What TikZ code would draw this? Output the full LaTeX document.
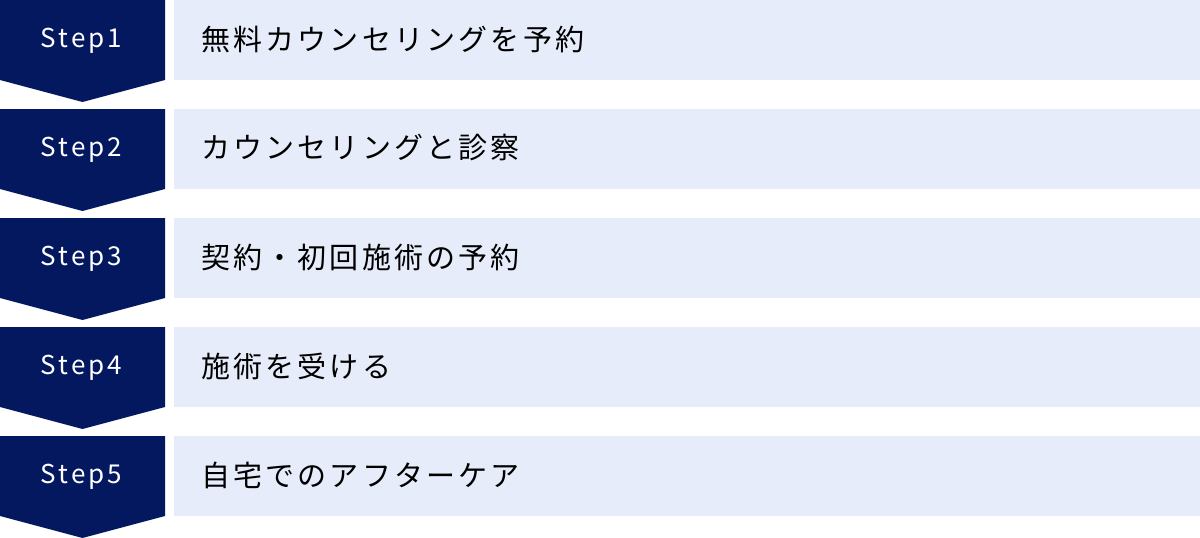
\documentclass[tikz,border=0pt]{standalone}
\usepackage{fontspec}
\setmainfont{Noto Sans CJK JP}
\newfontfamily\stepfont[LetterSpace=12]{Noto Sans CJK JP}
\newfontfamily\capfont[LetterSpace=11]{Noto Sans CJK JP}
\definecolor{navyblue}{HTML}{04185F}
\definecolor{paleblue}{HTML}{E6ECF9}

\tikzset{
  stepbox/.style={text=white,font=\stepfont\fontsize{26}{30}\selectfont},
  bar/.style={fill=paleblue,minimum width=1026pt,minimum height=80pt,inner sep=0pt,anchor=north west},
  caption/.style={anchor=west,text=black,font=\capfont\fontsize{29}{34}\selectfont,inner sep=0pt}
}

\begin{document}
\begin{tikzpicture}[x=1pt,y=-1pt]
\useasboundingbox (0,0) rectangle (1200,538);
%\draw[thin,gray!40] (0,0) grid[step=100pt] (1200,538);

 \fill[navyblue] (0,0)--(165,0)--(165,80)--(82.5,102)--(0,80)--cycle;
 \node[stepbox] (s1) at (81.5,41) {Step1};
 \node[bar] (b1) at (174,0) {};
 \node[caption] (t1) at (201,39) {無料カウンセリングを予約};

 \fill[navyblue] (0,109)--(165,109)--(165,189)--(82.5,211)--(0,189)--cycle;
 \node[stepbox] (s2) at (81.5,150) {Step2};
 \node[bar] (b2) at (174,109) {};
 \node[caption] (t2) at (201,148) {カウンセリングと診察};

 \fill[navyblue] (0,218)--(165,218)--(165,298)--(82.5,320)--(0,298)--cycle;
 \node[stepbox] (s3) at (81.5,259) {Step3};
 \node[bar] (b3) at (174,218) {};
 \node[caption] (t3) at (201,257) {契約・初回施術の予約};

 \fill[navyblue] (0,327)--(165,327)--(165,407)--(82.5,429)--(0,407)--cycle;
 \node[stepbox] (s4) at (81.5,368) {Step4};
 \node[bar] (b4) at (174,327) {};
 \node[caption] (t4) at (201,366) {施術を受ける};

 \fill[navyblue] (0,436)--(165,436)--(165,516)--(82.5,538)--(0,516)--cycle;
 \node[stepbox] (s5) at (81.5,477) {Step5};
 \node[bar] (b5) at (174,436) {};
 \node[caption] (t5) at (201,475) {自宅でのアフターケア};

\end{tikzpicture}
\end{document}
